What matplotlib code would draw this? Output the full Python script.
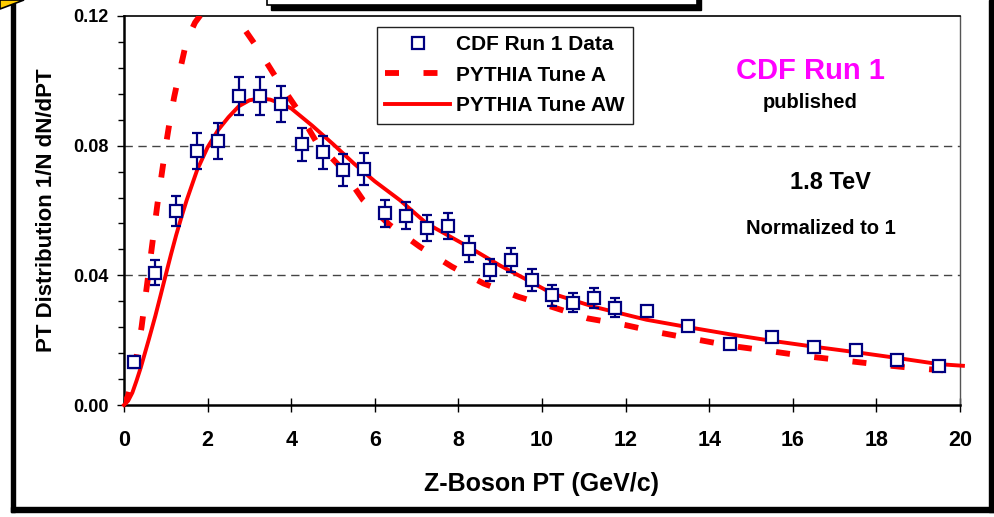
import matplotlib
matplotlib.use('Agg')
import matplotlib.pyplot as plt
from matplotlib.lines import Line2D
from matplotlib.patches import Rectangle, Polygon

plt.rcParams['font.family'] = ['Liberation Sans', 'DejaVu Sans']
plt.rcParams['font.weight'] = 'bold'

# CDF Run 1 data points (bin centres, value, error)
pt_data = [0.25, 0.75, 1.25, 1.75, 2.25, 2.75, 3.25, 3.75, 4.25, 4.75, 5.25, 5.75,
           6.25, 6.75, 7.25, 7.75, 8.25, 8.75, 9.25, 9.75, 10.25, 10.75, 11.25, 11.75,
           12.5, 13.5, 14.5, 15.5, 16.5, 17.5, 18.5, 19.5]
dist_data = [0.0132, 0.0408, 0.0598, 0.0783, 0.0815, 0.0953, 0.0953, 0.0928, 0.0804, 0.0779,
             0.0725, 0.0728, 0.0591, 0.0584, 0.0545, 0.0552, 0.0481, 0.0416, 0.0447, 0.0386,
             0.0338, 0.0316, 0.0330, 0.0300, 0.0291, 0.0244, 0.0188, 0.0209, 0.0178, 0.0171,
             0.0140, 0.0119]
err_data = [0.0018, 0.0039, 0.0047, 0.0055, 0.0056, 0.0059, 0.0059, 0.0056, 0.0052, 0.0050,
            0.0048, 0.0049, 0.0042, 0.0042, 0.0040, 0.0040, 0.0039, 0.0035, 0.0037, 0.0034,
            0.0032, 0.0030, 0.0030, 0.0029, 0.0015, 0.0012, 0.0010, 0.0010, 0.0008, 0.0008,
            0.0007, 0.0006]

# PYTHIA Tune A (dashed)
pt_a = [0, 0.1, 0.2, 0.3, 0.42, 0.5, 0.6, 0.7, 0.8, 0.9, 1.0, 1.1, 1.2, 1.3, 1.5, 1.7,
        1.9, 2.2, 2.5, 2.7, 3.2, 3.7, 4.13, 4.6, 5.17, 5.72, 6.36, 7.08, 7.84, 8.6, 9.43,
        10.23, 11.1, 11.98, 12.82, 13.7, 14.54, 15.41, 16.29, 17.17, 18.05, 18.88, 19.8, 20.0]
dist_a = [0, 0.003, 0.008, 0.015, 0.024, 0.032, 0.042, 0.052, 0.062, 0.071, 0.080, 0.088,
          0.095, 0.101, 0.1125, 0.118, 0.1215, 0.124, 0.1225, 0.1193, 0.110, 0.0997, 0.0915,
          0.0812, 0.0735, 0.0632, 0.0555, 0.0488, 0.0427, 0.0375, 0.0334, 0.0303, 0.0267,
          0.0247, 0.0223, 0.0202, 0.0182, 0.0167, 0.0151, 0.0138, 0.0125, 0.0114, 0.0105, 0.0103]

# PYTHIA Tune AW (solid)
pt_aw = [0, 0.1, 0.2, 0.3, 0.4, 0.5, 0.6, 0.75, 0.875, 1.0, 1.125, 1.25, 1.375, 1.5, 1.75,
         2.0, 2.25, 2.5, 2.75, 3.0, 3.25, 3.5, 3.75, 4.0, 4.5, 5.0, 5.5, 6.0, 6.6, 7.24, 8.24,
         9.0, 9.73, 10.24, 11.24, 12.5, 13.5, 14.5, 15.5, 16.5, 17.5, 18.5, 19.5, 20.07]
dist_aw = [0, 0.0013, 0.0038, 0.0075, 0.0115, 0.016, 0.0205, 0.0275, 0.0338, 0.0402, 0.0465,
           0.0525, 0.058, 0.0632, 0.0725, 0.0795, 0.0848, 0.0888, 0.0922, 0.094, 0.0946,
           0.0942, 0.093, 0.0915, 0.0862, 0.0805, 0.0745, 0.0690, 0.0632, 0.056, 0.0488,
           0.043, 0.038, 0.0344, 0.0303, 0.0263, 0.024, 0.0218, 0.0198, 0.018, 0.0163,
           0.0145, 0.0126, 0.0121]

fig = plt.figure(figsize=(9.94, 5.17), dpi=100)
ax = fig.add_axes([124 / 994, 1 - 405 / 517, 836 / 994, 389 / 517])

navy = '#000080'
red = '#ff0000'

ax.plot(pt_a, dist_a, color=red, lw=4.2, dashes=(2.4, 4.2), solid_capstyle='butt', zorder=3)
ax.plot(pt_aw, dist_aw, color=red, lw=2.8, zorder=3, clip_on=False)
ax.errorbar(pt_data, dist_data, yerr=err_data, fmt='s', ms=8.5, mfc='white', mec=navy, mew=1.6,
            ecolor=navy, elinewidth=1.6, capsize=3.6, capthick=1.6, zorder=4)

ax.set_xlim(0, 20)
ax.set_ylim(0, 0.12)
ax.set_xticks(range(0, 21, 2))
ax.set_yticks([0, 0.04, 0.08, 0.12])
ax.set_yticklabels(['0.00', '0.04', '0.08', '0.12'])
ax.set_yticks([i * 0.008 for i in range(16)], minor=True)
ax.tick_params(axis='y', which='major', direction='out', length=5, width=1, labelsize=13, pad=6)
ax.tick_params(axis='y', which='minor', direction='out', length=4.5, width=1)
ax.tick_params(axis='x', which='major', direction='inout', length=10, width=1, labelsize=15.5, pad=13)
for lab in ax.get_xticklabels() + ax.get_yticklabels():
    lab.set_fontweight('bold')

for yv in (0.04, 0.08):
    ax.axhline(yv, color='#444444', lw=1, dashes=(6, 4), zorder=1)

ax.spines['left'].set_linewidth(1.8)
ax.spines['bottom'].set_linewidth(1.8)
ax.spines['top'].set_linewidth(1.2)
ax.spines['right'].set_linewidth(1.0)
ax.spines['right'].set_color('#555555')

ax.set_xlabel('Z-Boson PT (GeV/c)', fontsize=18, fontweight='bold', labelpad=15)
ax.set_ylabel('PT Distribution 1/N dN/dPT', fontsize=16, fontweight='bold', labelpad=12)

handles = [Line2D([], [], ls='none', marker='s', ms=8, mfc='white', mec=navy, mew=1.6),
           Line2D([], [], color=red, lw=4.2, dashes=(2.4, 4.2)),
           Line2D([], [], color=red, lw=2.8)]
leg = ax.legend(handles, ['CDF Run 1 Data', 'PYTHIA Tune A', 'PYTHIA Tune AW'],
                loc='upper left', bbox_to_anchor=(377 / 994, 1 - 27 / 517),
                bbox_transform=fig.transFigure, borderaxespad=0, fancybox=False,
                edgecolor='#222222', framealpha=1, prop={'size': 15, 'weight': 'bold'},
                handlelength=3.1, handletextpad=0.3, labelspacing=0.55, borderpad=0.4)
leg.get_frame().set_linewidth(1.0)

ax.text(16.41, 0.1030, 'CDF Run 1', color='#ff00ff', fontsize=21, fontweight='bold', ha='center', va='center')
ax.text(16.41, 0.0932, 'published', color='black', fontsize=14.5, fontweight='bold', ha='center', va='center')
ax.text(16.91, 0.0685, '1.8 TeV', color='black', fontsize=17, fontweight='bold', ha='center', va='center')
ax.text(16.67, 0.0546, 'Normalized to 1', color='black', fontsize=14.5, fontweight='bold', ha='center', va='center')

# slide decorations: outer frame, top box, yellow corner
W, H = 994, 517
fig.add_artist(Rectangle((11 / W, 1 - 512 / H), 4 / W, 509 / H, transform=fig.transFigure, color='black'))
fig.add_artist(Rectangle((11 / W, 1 - 512 / H), 983 / W, 5 / H, transform=fig.transFigure, color='black'))
fig.add_artist(Rectangle((989 / W, 1 - 512 / H), 5 / W, 512 / H, transform=fig.transFigure, color='black'))
fig.add_artist(Rectangle((271 / W, 1 - 10 / H), 430 / W, 12 / H, transform=fig.transFigure, color='black'))
fig.add_artist(Rectangle((267 / W, 1 - 5 / H), 430 / W, 10 / H, transform=fig.transFigure,
                         facecolor='white', edgecolor='black', lw=1.2))
fig.add_artist(Polygon([(0, 1), (24 / W, 1), (0, 1 - 9 / H)], closed=True, transform=fig.transFigure,
                       facecolor='#ffcc00', edgecolor='black', lw=1.2))

fig.savefig('out.png', dpi=100)
